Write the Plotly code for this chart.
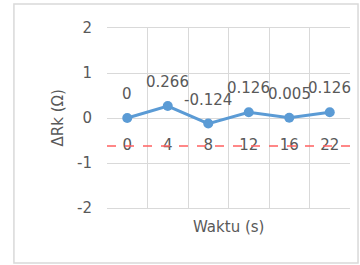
import plotly.graph_objects as go

categories = ["0", "4", "8", "12", "16", "22"]
values = [0, 0.266, -0.124, 0.126, 0.005, 0.126]
value_labels = ["0", "0.266", "-0.124", "0.126", "0.005", "0.126"]
ref_value = -0.62
y_ticks = [-2, -1, 0, 1, 2]
y_tick_text = ["-2", "-1", "0", "1", "2"]

FONT = "DejaVu Sans"
GREY = "#595959"
GRID = "#D9D9D9"
BLUE = "#5B9BD5"

fig = go.Figure()

fig.add_trace(go.Scatter(
    x=categories, y=values, mode="lines+markers",
    line=dict(color=BLUE, width=3),
    marker=dict(color=BLUE, size=10),
    hoverinfo="skip", showlegend=False,
))

# category labels drawn where the horizontal axis crosses
fig.add_trace(go.Scatter(
    x=categories, y=[ref_value] * len(categories), mode="text",
    text=categories, textposition="middle center",
    textfont=dict(family=FONT, size=15, color=GREY),
    hoverinfo="skip", showlegend=False,
))

fig.add_shape(type="line", xref="paper", x0=0, x1=1, yref="y",
              y0=ref_value, y1=ref_value,
              line=dict(color="#FF6060", width=1.5, dash="dash"), layer="above")

for i, (v, t) in enumerate(zip(values, value_labels)):
    fig.add_annotation(x=i, y=v, text=t, showarrow=False, yshift=24,
                       font=dict(family=FONT, size=15, color=GREY))

# outer chart border
fig.add_shape(type="rect", xref="paper", yref="paper",
              x0=-0.383, x1=1.033, y0=-0.306, y1=1.133,
              line=dict(color=GRID, width=1.5))

fig.add_annotation(xref="paper", yref="paper", x=-0.245, y=0.5,
                   text="ΔRk (Ω)", textangle=-90, showarrow=False,
                   font=dict(family=FONT, size=15, color=GREY))
fig.add_annotation(xref="paper", yref="paper", x=0.5, y=-0.106,
                   text="Waktu (s)", showarrow=False, yanchor="middle",
                   font=dict(family=FONT, size=15, color=GREY))

fig.update_xaxes(type="category", tickson="boundaries", showticklabels=False,
                 showgrid=True, gridcolor=GRID, gridwidth=1,
                 showline=True, linecolor=GRID, mirror=True, ticks="",
                 zeroline=False, range=[-0.5, 5.5])
fig.update_yaxes(range=[-2, 2], tickvals=y_ticks, ticktext=y_tick_text,
                 showgrid=True, gridcolor=GRID,
                 gridwidth=1, zeroline=False, showline=False, ticks="",
                 ticklabelstandoff=14,
                 tickfont=dict(family=FONT, size=15, color=GREY))

fig.update_layout(
    width=360, height=265,
    margin=dict(l=107, r=10, t=28, b=57),
    paper_bgcolor="white", plot_bgcolor="white",
    font=dict(family=FONT, color=GREY),
)

fig.write_html("out.html", config={"displayModeBar": False},
               post_script="document.body.style.margin='0';document.body.style.overflow='hidden';")
